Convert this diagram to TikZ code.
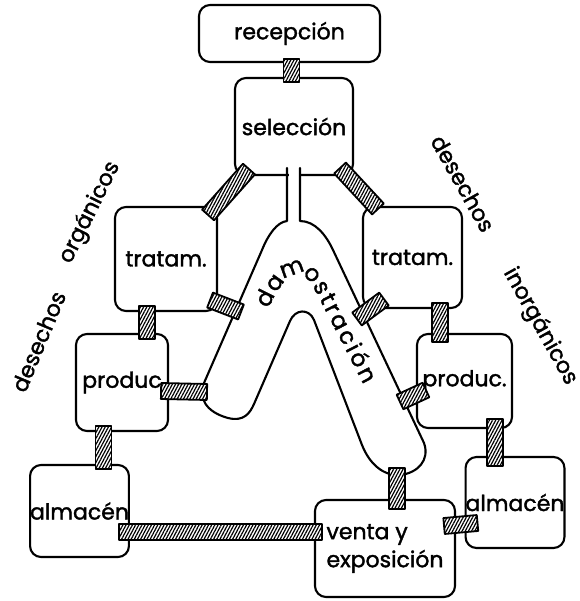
\documentclass[tikz,border=0pt]{standalone}
\usepackage{fontspec}
\newfontfamily\hand{Poppins}[FakeBold=1.6]
\usetikzlibrary{calc,patterns.meta,decorations.text}
\tikzset{
  box/.style={draw, line width=2.1pt, rounded corners=11pt, inner sep=0pt,
    font=\hand\fontsize{22}{28}\selectfont},
  lbl/.style={font=\hand\fontsize{22}{28}\selectfont, inner sep=0pt},
  outline/.style={line width=2.1pt, line join=round, line cap=round},
  hatch/.style={draw, line width=1.8pt, line join=round, preaction={fill=white},
    pattern={Lines[angle=62,distance=2.8pt,line width=1.2pt]}},
}
\newcommand\hband[2]{\path[hatch] ($(#1)!8pt!90:(#2)$) -- ($(#2)!8pt!-90:(#1)$)
  -- ($(#2)!8pt!90:(#1)$) -- ($(#1)!8pt!-90:(#2)$) -- cycle;}
\begin{document}
\begin{tikzpicture}[x=1pt,y=-1pt]
\fill[white] (0,0) rectangle (579,601);
\useasboundingbox (0,0) rectangle (579,601);

% boxes
\node[box, minimum width=181pt, minimum height=57pt] (rec) at (289.5,33.5) {recepción};
\node[box, minimum width=118pt, minimum height=97pt] (sel) at (294,126.5) {selección};
\node[box, minimum width=102pt, minimum height=104pt] (tratL) at (166,259) {tratam.};
\node[box, minimum width=99pt, minimum height=101pt] (tratR) at (412.5,257.5) {tratam.};
\node[box, minimum width=92pt, minimum height=97pt] (prodL) at (122,382.5) {produc};
\node[box, minimum width=95pt, minimum height=94pt] (prodR) at (464.5,381) {produc.};
\node[box, minimum width=93pt, minimum height=92pt] (almL) at (79.5,511) {almacén};
\node[box, minimum width=94pt, minimum height=91pt] (almR) at (515,502.5) {almacén};
\node[box, minimum width=140pt, minimum height=97pt, align=left] (venta) at (385,548.5) {venta y\\exposición};

% side labels
\node[lbl, rotate=67.3] (dL) at (38.5,341.5) {desechos};
\node[lbl, rotate=63.6] (oL) at (90,212.5) {orgánicos};
\node[lbl, rotate=-60.7] (dR) at (463,183.5) {desechos};
\node[lbl, rotate=-60.9] (iR) at (540,326.5) {inorgánicos};

% opening of the channel in selección
\fill[white] (288.5,166) rectangle (298.5,180);

% demostración channel
\draw[outline] (287,168) -- (287,221)
  .. controls (277,222) and (268,235) .. (262,250)
  -- (204,383)
  .. controls (198,398) and (206,412) .. (228,418)
  .. controls (244,422) and (250,413) .. (254,404)
  -- (290,321)
  .. controls (295,309) and (309,308) .. (314,320)
  -- (362,445)
  .. controls (370,465) and (384,476) .. (400,475)
  .. controls (418,473) and (430,460) .. (424,443)
  -- (333,250)
  .. controls (326,235) and (315,221) .. (300,221)
  -- (300,168);
\path[decorate, decoration={text along path, raise=-6pt, text align={fit to path},
  text={|\hand\fontsize{23}{28}\selectfont|damostración}}]
  (263,306) .. controls (280,268) and (300,255) .. (318,283) -- (369,382);

% attachment points on the channel
\coordinate (demoPL) at (207,392);
\coordinate (demoPR) at (400,402);
\coordinate (demoTL) at (241,312);
\coordinate (demoTR) at (357,319);
\coordinate (demoB) at (397,468);

% connector ends
\coordinate (b1a) at ($(rec.south)+(2,-4)$);
\coordinate (b1b) at ($(sel.north)+(-2.5,5)$);
\coordinate (b2a) at ($(sel.south west)+(15,-7)$);
\coordinate (b2b) at ($(tratL.north east)+(-10,9)$);
\coordinate (b3a) at ($(sel.south east)+(-14,-8)$);
\coordinate (b3b) at ($(tratR.north west)+(16,3)$);
\coordinate (b4a) at ($(tratL.south)+(-19,-6)$);
\coordinate (b4b) at ($(prodL.north)+(25,6)$);
\coordinate (b5a) at ($(tratR.south)+(27.5,-6)$);
\coordinate (b5b) at ($(prodR.north)+(-24.5,9)$);
\coordinate (b6a) at ($(prodL.south)+(-18.5,-6)$);
\coordinate (b6b) at ($(almL.north)+(24,5)$);
\coordinate (b7a) at ($(prodR.south)+(30.5,-10)$);
\coordinate (b7b) at ($(almR.north)+(-20,10)$);
\coordinate (b8a) at ($(almL.east)+(-11,21)$);
\coordinate (b8b) at ($(venta.west)+(8,-16.5)$);
\coordinate (b9a) at ($(venta.east)+(-12,-22.5)$);
\coordinate (b9b) at ($(almR.west)+(13,20.5)$);
\coordinate (b10) at ($(prodL.east)+(-8,8.5)$);
\coordinate (b11) at ($(prodR.west)+(10,9)$);
\coordinate (b12) at ($(tratL.south east)+(-8,-12)$);
\coordinate (b13) at ($(tratR.south west)+(22,-10)$);
\coordinate (b14) at ($(venta.north)+(12,10)$);

% hatched connectors
\hband{b1a}{b1b}
\hband{b2a}{b2b}
\hband{b3a}{b3b}
\hband{b4a}{b4b}
\hband{b5a}{b5b}
\hband{b6a}{b6b}
\hband{b7a}{b7b}
\hband{b8a}{b8b}
\hband{b9a}{b9b}
\hband{b10}{demoPL}
\hband{b11}{demoPR}
\hband{b12}{demoTL}
\hband{b13}{demoTR}
\hband{demoB}{b14}
\end{tikzpicture}
\end{document}
